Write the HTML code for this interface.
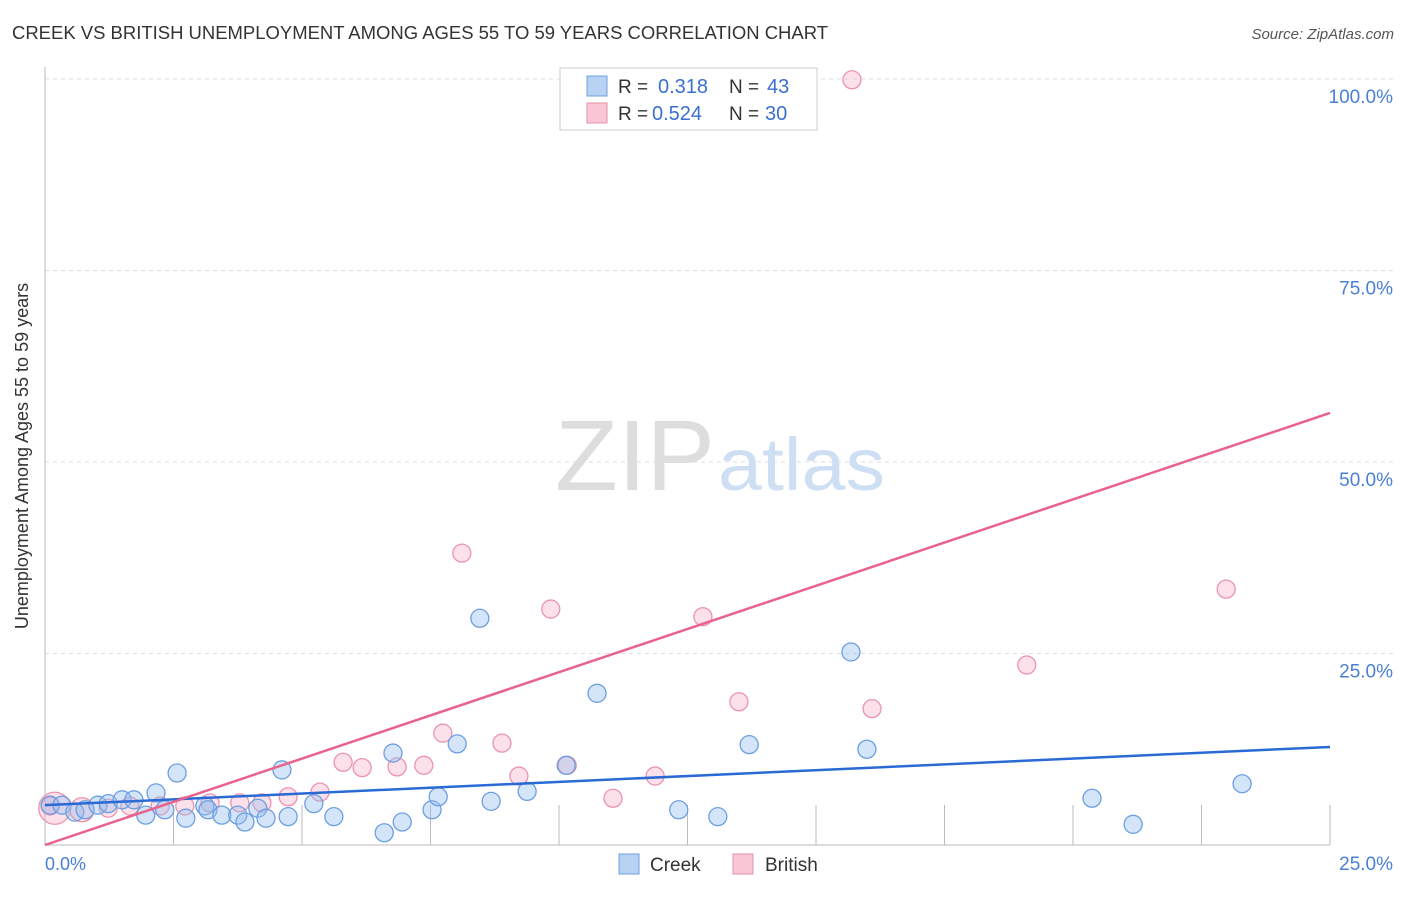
<!DOCTYPE html>
<html><head><meta charset="utf-8"><style>
body{margin:0;background:#fff;font-family:"Liberation Sans",sans-serif;}
svg text{font-family:"Liberation Sans",sans-serif;}
</style></head><body>
<svg width="1406" height="892">
<text x="12" y="39" font-size="18" fill="#333" textLength="816" lengthAdjust="spacingAndGlyphs">CREEK VS BRITISH UNEMPLOYMENT AMONG AGES 55 TO 59 YEARS CORRELATION CHART</text>
<text x="1394" y="39" font-size="15" fill="#555" font-style="italic" text-anchor="end">Source: ZipAtlas.com</text>
<g id="grid"></g>
<text x="555" y="490" font-size="100" fill="#ddd" textLength="160" lengthAdjust="spacingAndGlyphs" font-family="Liberation Serif">ZIP</text>
<text x="718" y="490" font-size="74" fill="#cfdff3" textLength="167" lengthAdjust="spacingAndGlyphs">atlas</text>
<g id="pts"></g>
<g id="lines"></g>
<text x="28" y="456" font-size="18" fill="#333" text-anchor="middle" transform="rotate(-90 28 456)">Unemployment Among Ages 55 to 59 years</text>
<text x="45" y="870" font-size="18" fill="#4a7fd8">0.0%</text>
<text x="1393" y="870" font-size="19" fill="#4a7fd8" text-anchor="end">25.0%</text>
<g>
<rect x="560" y="68" width="257" height="62" fill="#fff" stroke="#ccc"/>
<rect x="587" y="76" width="20" height="20" fill="#b8d2f4" stroke="#6fa0e0"/>
<rect x="587" y="103" width="20" height="20" fill="#f8c6d4" stroke="#e890aa"/>
<text x="618" y="93" font-size="19" fill="#333">R =</text>
<text x="658" y="93" font-size="20" fill="#3a70d0">0.318</text>
<text x="729" y="93" font-size="19" fill="#333">N =</text>
<text x="767" y="93" font-size="20" fill="#3a70d0">43</text>
<text x="618" y="120" font-size="19" fill="#333">R =</text>
<text x="652" y="120" font-size="20" fill="#3a70d0">0.524</text>
<text x="729" y="120" font-size="19" fill="#333">N =</text>
<text x="765" y="120" font-size="20" fill="#3a70d0">30</text>
</g>
<g>
<rect x="619" y="854" width="20" height="20" fill="#b8d2f4" stroke="#6fa0e0"/>
<text x="650" y="871" font-size="19" fill="#333">Creek</text>
<rect x="733" y="854" width="20" height="20" fill="#f8c6d4" stroke="#e890aa"/>
<text x="765" y="871" font-size="19" fill="#333">British</text>
</g>
</svg>
<script>
const creekX=[0.10,0.33,0.58,0.78,1.03,1.23,1.50,1.73,1.96,2.16,2.33,2.57,2.74,3.11,3.17,3.44,3.75,3.89,4.14,4.30,4.61,4.73,5.23,5.62,6.60,6.77,6.95,7.53,7.65,8.02,8.46,8.68,9.38,10.14,10.74,12.33,13.09,13.70,15.68,15.99,20.37,21.17,23.29];
const creekY=[5.2,5.2,4.3,4.6,5.2,5.4,5.9,5.9,3.9,6.8,4.6,9.4,3.5,5.1,4.6,3.9,3.9,3.0,4.8,3.5,9.8,3.7,5.4,3.7,1.6,12.0,3.0,4.6,6.3,13.2,29.6,5.7,7.0,10.4,19.8,4.6,3.7,13.1,25.2,12.5,6.1,2.7,8.0];
const britX=[0.19,0.72,1.23,1.65,2.24,2.72,3.21,3.79,4.22,4.73,5.35,5.80,6.17,6.85,7.37,7.74,8.11,8.89,9.22,9.84,10.16,11.05,11.87,12.80,13.50,15.70,16.09,19.10,22.98,0.10];
const britY=[4.8,4.6,4.8,5.1,5.1,5.1,5.5,5.5,5.5,6.3,6.9,10.8,10.1,10.2,10.4,14.6,38.1,13.3,9.0,30.8,10.4,6.1,9.0,29.8,18.7,99.9,17.8,23.5,33.4,5.1];
const yTicks=[25,50,75,100];
const creekLine=[5.2,12.8], britLine=[0,56.4];
const NS="http://www.w3.org/2000/svg";
const sx=v=>45+v/25*1285, sy=v=>845-v*7.66;
function mk(t,a,p){const e=document.createElementNS(NS,t);for(const k in a)e.setAttribute(k,a[k]);document.getElementById(p).appendChild(e);return e;}
yTicks.forEach(t=>{
 const l=mk('line',{x1:45,x2:1395,y1:sy(t),y2:sy(t),stroke:'#ddd','stroke-dasharray':'4,4'},'grid');
 
 
 const tx=mk('text',{x:1393,y:sy(t)+24,'font-size':19,fill:'#4a7fd8','text-anchor':'end'},'grid');
 tx.textContent=t.toFixed(1)+'%';
 
 
});
let a=mk('line',{x1:45,x2:45,y1:67,y2:845,stroke:'#bbb'},'grid');


a=mk('line',{x1:45,x2:1330,y1:845,y2:845,stroke:'#bbb'},'grid');


for(let i=1;i<=10;i++){const t=mk('line',{x1:sx(i*2.5),x2:sx(i*2.5),y1:805,y2:845,stroke:'#bbb'},'grid');
 
 }
function pts(X,Y,f,s,n){X.forEach((x,i)=>{const big=(x<0.8&&Y[i]<6&&n=='british-point');
 const c=mk('circle',{cx:sx(x),cy:sy(Y[i]),r:big&&i!=29?(i==0?16:12):9,fill:f,stroke:s,'stroke-width':1.3},'pts');
 
 });}
pts(britX,britY,'rgba(245,170,195,0.35)','#eb93ae','british-point');
pts(creekX,creekY,'rgba(150,190,240,0.4)','#6c9fe2','creek-point');
let l=mk('line',{x1:sx(0),y1:sy(creekLine[0]),x2:sx(25),y2:sy(creekLine[1]),stroke:'#2a6ad4','stroke-width':2.5},'lines');


l=mk('line',{x1:sx(0),y1:sy(britLine[0]),x2:sx(25),y2:sy(britLine[1]),stroke:'#e8628c','stroke-width':2.5},'lines');


</script>
</body></html>
